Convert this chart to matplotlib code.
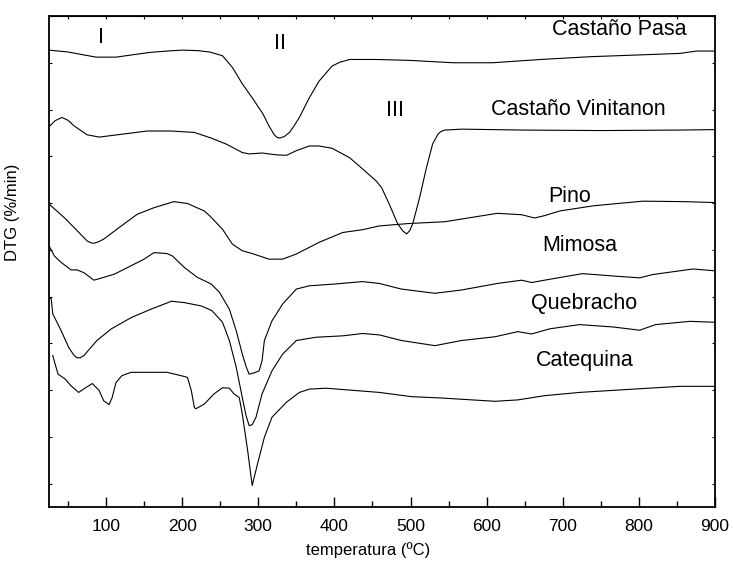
import numpy as np
import matplotlib
matplotlib.use('Agg')
import matplotlib.pyplot as plt

plt.rcParams['font.family'] = ['Liberation Sans', 'DejaVu Sans']

# DTG curves, stacked with vertical offsets (arbitrary units)
pasa_t = [25, 50, 70, 87, 113, 135, 157, 180, 200, 220, 236, 253, 266, 279, 292, 306, 314, 321, 325, 328, 334, 341,
          347, 354, 367, 380, 397, 407, 420, 455, 500, 556, 608, 671, 737, 805, 854, 876, 900]
pasa_y = [9.27, 9.23, 9.17, 9.12, 9.12, 9.17, 9.22, 9.25, 9.27, 9.26, 9.23, 9.15, 8.90, 8.55, 8.25, 7.91, 7.65, 7.46, 7.40, 7.39, 7.42, 7.51,
          7.65, 7.83, 8.25, 8.61, 8.93, 9.01, 9.07, 9.07, 9.05, 9.00, 9.00, 9.07, 9.13, 9.17, 9.20, 9.25, 9.25]

vinit_t = [25, 33, 42, 50, 58, 75, 91, 120, 154, 186, 216, 238, 258, 279, 288, 305, 324, 337, 350, 367, 380, 397,
           420, 437, 455, 462, 472, 483, 490, 495, 499, 503, 512, 521, 529, 536, 540, 545, 567, 650, 750, 850, 900]
vinit_y = [7.63, 7.76, 7.83, 7.77, 7.65, 7.46, 7.41, 7.47, 7.54, 7.54, 7.51, 7.39, 7.26, 7.08, 7.05, 7.07, 7.03, 7.02, 7.12, 7.22, 7.22, 7.17,
           6.97, 6.73, 6.47, 6.33, 5.98, 5.56, 5.40, 5.34, 5.41, 5.56, 6.12, 6.76, 7.26, 7.47, 7.53, 7.56, 7.58, 7.56, 7.55, 7.56, 7.57]

pino_t = [25, 45, 62, 75, 80, 84, 90, 97, 120, 141, 163, 189, 207, 229, 236, 253, 266, 279, 292, 314, 332, 350, 380,
          411, 437, 459, 496, 545, 614, 646, 663, 676, 696, 740, 805, 859, 900]
pino_y = [5.98, 5.69, 5.41, 5.19, 5.15, 5.14, 5.17, 5.23, 5.51, 5.76, 5.90, 6.03, 5.99, 5.83, 5.73, 5.44, 5.12, 4.98, 4.92, 4.80, 4.80, 4.91, 5.16,
          5.37, 5.43, 5.51, 5.56, 5.60, 5.78, 5.75, 5.68, 5.73, 5.83, 5.94, 6.04, 6.03, 6.01]

mimosa_t = [25, 32, 41, 54, 62, 71, 84, 97, 111, 133, 150, 163, 180, 187, 203, 220, 238, 249, 262, 271, 279, 284, 288,
            295, 301, 305, 308, 318, 332, 350, 367, 402, 437, 459, 488, 532, 567, 614, 646, 659, 683, 726, 766, 801,
            818, 871, 900]
mimosa_y = [5.09, 4.87, 4.73, 4.57, 4.57, 4.51, 4.35, 4.41, 4.48, 4.66, 4.80, 4.94, 4.92, 4.87, 4.62, 4.41, 4.27, 4.09, 3.73, 3.27, 2.77, 2.50, 2.34,
            2.37, 2.41, 2.63, 3.06, 3.48, 3.84, 4.16, 4.23, 4.27, 4.32, 4.28, 4.16, 4.07, 4.14, 4.28, 4.35, 4.30, 4.37, 4.49, 4.44, 4.40,
            4.47, 4.59, 4.55]

queb_t = [25, 28, 30, 41, 51, 58, 62, 66, 71, 88, 107, 133, 159, 186, 203, 225, 239, 253, 262, 271, 279, 284, 288, 292,
          297, 305, 318, 332, 350, 376, 411, 437, 459, 488, 532, 567, 611, 641, 659, 683, 722, 766, 801, 822, 867, 900]
queb_y = [3.98, 3.95, 3.63, 3.27, 2.91, 2.74, 2.69, 2.69, 2.74, 3.06, 3.31, 3.55, 3.73, 3.90, 3.87, 3.80, 3.70, 3.45, 3.06, 2.49, 1.84, 1.45, 1.24, 1.26,
          1.42, 1.92, 2.41, 2.77, 3.06, 3.13, 3.16, 3.21, 3.18, 3.06, 2.95, 3.06, 3.14, 3.25, 3.20, 3.31, 3.40, 3.35, 3.28, 3.40, 3.47, 3.45]

cateq_t = [30, 33, 37, 46, 54, 64, 74, 82, 91, 97, 104, 108, 113, 121, 133, 150, 180, 193, 203, 207, 212, 216, 218,
           229, 242, 253, 262, 268, 275, 279, 286, 292, 299, 308, 318, 337, 354, 367, 389, 420, 459, 501, 541, 611,
           641, 676, 722, 792, 854, 900]
cateq_y = [2.74, 2.56, 2.34, 2.24, 2.09, 1.95, 2.06, 2.14, 1.99, 1.77, 1.69, 1.84, 2.16, 2.31, 2.38, 2.38, 2.38, 2.33, 2.29, 2.27, 1.99, 1.63, 1.60,
           1.70, 1.92, 2.05, 2.04, 1.92, 1.84, 1.49, 0.71, -0.04, 0.42, 0.99, 1.42, 1.74, 1.95, 2.02, 2.04, 2.00, 1.95, 1.86, 1.83, 1.76,
           1.79, 1.88, 1.95, 2.02, 2.08, 2.08]

# sample names and stage marks: (text, temperature, y)
names = [('Castaño Pasa', 774, 9.72), ('Castaño Vinitanon', 720, 8.01), ('Pino', 709, 6.15),
         ('Mimosa', 722, 5.09), ('Quebracho', 728, 3.85), ('Catequina', 729, 2.63)]
stages = [('I', 93, 9.53), ('II', 329, 9.42), ('III', 480, 7.97)]

fig = plt.figure(figsize=(7.33, 5.69), dpi=100)
ax = fig.add_axes([0.0668, 0.109, 0.9086, 0.8629])

for t, y in [(pasa_t, pasa_y), (vinit_t, vinit_y), (pino_t, pino_y),
             (mimosa_t, mimosa_y), (queb_t, queb_y), (cateq_t, cateq_y)]:
    ax.plot(t, y, color='black', lw=0.8)

for txt, t, y in names + stages:
    ax.text(t, y, txt, ha='center', va='center', fontsize=15.5)

ax.set_xlim(25, 900)
ax.set_ylim(-0.5, 10)
ax.set_xticks(np.arange(100, 901, 100))
ax.set_xticks(np.arange(50, 901, 50), minor=True)
ax.set_yticks(np.arange(0, 11, 1))
ax.set_yticklabels([])
ax.tick_params(axis='x', which='major', direction='in', length=7, width=1.0, labelsize=12.5, pad=9)
ax.tick_params(axis='x', which='minor', direction='in', length=4, width=1.0)
ax.tick_params(axis='y', direction='in', length=2.5, width=0.8, right=True)
for s in ax.spines.values():
    s.set_linewidth(1.3)

top = ax.secondary_xaxis('top')
top.set_xticks(np.arange(50, 901, 50))
top.set_xticklabels([])
top.tick_params(direction='in', length=2.5, width=0.8)

ax.set_xlabel('temperatura (ºC)', fontsize=12)
ax.xaxis.set_label_coords(0.479, -0.072)
ax.set_ylabel('DTG (%/min)', fontsize=12)
ax.yaxis.set_label_coords(-0.044, 0.6)

fig.savefig('out.png', dpi=100)
